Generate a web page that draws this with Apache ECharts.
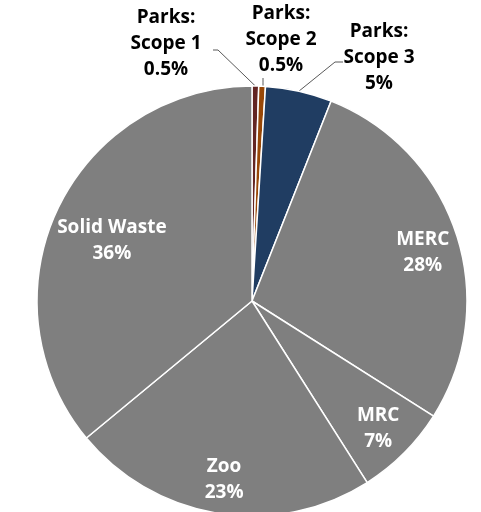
<!DOCTYPE html>
<html>
<head>
<meta charset="utf-8">
<script src="https://cdn.jsdelivr.net/npm/echarts@6/dist/echarts.min.js"></script>
<style>
  html, body { margin: 0; padding: 0; background: #ffffff; }
  #chart { width: 481px; height: 512px; }
</style>
</head>
<body>
<div id="chart"></div>
<script>
// Emissions share by source (percent of total)
const categories = ['Parks: Scope 1', 'Parks: Scope 2', 'Parks: Scope 3', 'MERC', 'MRC', 'Zoo', 'Solid Waste'];
const shares = [0.5, 0.5, 5, 28, 7, 23, 36];
const sliceColors = ['#632523', '#984807', '#203d62', '#7f7f7f', '#7f7f7f', '#7f7f7f', '#7f7f7f'];

// Pie geometry
const CX = 252, CY = 301, R = 215;

// Slices whose labels sit outside with a leader line
const callouts = {
  0: { x: 166, y: 44, end: [213, 50], elbow: [218, 50] },
  1: { x: 281, y: 40, end: [263, 78], elbow: null },
  2: { x: 379, y: 58, end: [343, 62], elbow: [335, 62] }
};
// Placement of labels drawn inside the slices: fraction of radius, plus a small vertical nudge
const insideFrac = { 3: 0.835, 4: 0.83, 5: 0.83, 6: 0.72 };
const insideNudge = { 3: 7, 4: 1, 5: 2, 6: 6 };

const total = shares.reduce((a, b) => a + b, 0);
function midAngle(i) {
  let before = 0;
  for (let k = 0; k < i; k++) before += shares[k];
  const turn = (before + shares[i] / 2) / total; // clockwise from 12 o'clock
  return turn * 2 * Math.PI;
}
function pointAt(i, r) {
  const t = midAngle(i);
  return [CX + r * Math.sin(t), CY - r * Math.cos(t)];
}

const seriesData = categories.map((name, i) => {
  const outside = callouts[i] !== undefined;
  return {
    name: name,
    value: shares[i],
    itemStyle: { color: sliceColors[i] },
    label: { color: outside ? '#000000' : '#ffffff' },
    labelLine: { show: outside }
  };
});

const chart = echarts.init(document.getElementById('chart'), null, { renderer: 'canvas' });
chart.setOption({
  animation: false,
  backgroundColor: '#ffffff',
  series: [{
    type: 'pie',
    center: [CX, CY],
    radius: R,
    startAngle: 90,
    clockwise: true,
    avoidLabelOverlap: false,
    itemStyle: { borderColor: '#ffffff', borderWidth: 1.5 },
    label: {
      show: true,
      position: 'outside',
      fontFamily: 'Open Sans',
      fontWeight: 'bold',
      fontSize: 19,
      lineHeight: 26,
      align: 'center',
      formatter: p => p.name.replace(': ', ':\n') + '\n' + p.value + '%'
    },
    labelLine: {
      show: true,
      lineStyle: { color: '#595959', width: 1 }
    },
    labelLayout: function (params) {
      const i = params.dataIndex;
      const c = callouts[i];
      if (c) {
        const anchor = pointAt(i, R);
        let pts;
        if (c.elbow) {
          pts = [anchor, c.elbow, c.end];
        } else {
          pts = [[c.end[0], anchor[1]], [c.end[0], (anchor[1] + c.end[1]) / 2], c.end];
        }
        return { x: c.x, y: c.y, align: 'center', verticalAlign: 'middle', labelLinePoints: pts };
      }
      const p = pointAt(i, R * insideFrac[i]);
      return { x: p[0], y: p[1] + insideNudge[i], align: 'center', verticalAlign: 'middle' };
    },
    data: seriesData
  }]
});
</script>
</body>
</html>
